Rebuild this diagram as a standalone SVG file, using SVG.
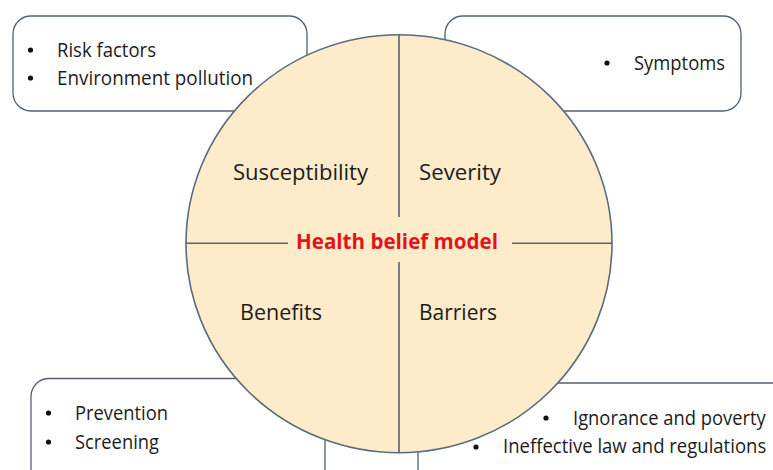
<svg xmlns="http://www.w3.org/2000/svg" width="773" height="470" viewBox="0 0 773 470">
  <style>
    .box { fill: #ffffff; stroke: #4f6078; stroke-width: 1.3; }
    .edge { fill: none; stroke: #4f6078; stroke-width: 1.3; }
    .txt { font-family: "Open Sans", "Noto Sans", sans-serif; font-size: 19.5px; fill: #1c1c1c; }
    .dot { fill: #111111; }
    .quad { font-family: "Open Sans", "Noto Sans", sans-serif; font-size: 21px; fill: #1c1c1c; }
    .title { font-family: "Open Sans", "Noto Sans", sans-serif; font-size: 21px; font-weight: bold; fill: #e2141a; }
    .divider { stroke: #55647a; stroke-width: 1.6; fill: none; }
  </style>
  <rect width="773" height="470" fill="#ffffff"/>

  <!-- Susceptibility box (top left) -->
  <g id="box-susceptibility">
    <rect class="box" x="13" y="16" width="294" height="95" rx="18"/>
    <circle class="dot" cx="30.5" cy="50" r="2.6"/>
    <circle class="dot" cx="30.5" cy="78" r="2.6"/>
    <text class="txt" x="57" y="57" textLength="99" lengthAdjust="spacingAndGlyphs">Risk factors</text>
    <text class="txt" x="57" y="85" textLength="196" lengthAdjust="spacingAndGlyphs">Environment pollution</text>
  </g>

  <!-- Severity box (top right) -->
  <g id="box-severity">
    <rect class="box" x="445" y="16" width="296" height="95" rx="18"/>
    <circle class="dot" cx="607" cy="63" r="2.6"/>
    <text class="txt" x="634" y="70" textLength="91" lengthAdjust="spacingAndGlyphs">Symptoms</text>
  </g>

  <!-- Benefits box (bottom left) -->
  <g id="box-benefits">
    <rect class="box" x="31" y="378.5" width="294" height="110" rx="18"/>
    <circle class="dot" cx="48.5" cy="413" r="2.6"/>
    <circle class="dot" cx="48.5" cy="442" r="2.6"/>
    <text class="txt" x="75" y="420" textLength="93" lengthAdjust="spacingAndGlyphs">Prevention</text>
    <text class="txt" x="75" y="449" textLength="84" lengthAdjust="spacingAndGlyphs">Screening</text>
  </g>

  <!-- Barriers box (bottom right): runs past the right and bottom edges -->
  <g id="box-barriers">
    <rect x="418" y="383" width="355" height="87" fill="#ffffff"/>
    <path class="edge" d="M418,470 V401 A18,18 0 0 1 436,383 H773"/>
    <circle class="dot" cx="546" cy="418" r="2.6"/>
    <circle class="dot" cx="476" cy="447" r="2.6"/>
    <!-- horizontally condensed lines so they fit before the right edge -->
    <text class="txt" transform="translate(573,425) scale(0.88,1)" x="0" y="0" textLength="219" lengthAdjust="spacingAndGlyphs">Ignorance  and poverty</text>
    <text class="txt" transform="translate(503,453) scale(0.82,1)" x="0" y="0" textLength="321" lengthAdjust="spacingAndGlyphs">Ineffective  law and regulations</text>
  </g>

  <!-- Central model circle with its four quadrants -->
  <g id="model">
    <ellipse cx="399" cy="243.7" rx="213" ry="209" fill="#fdebc9" stroke="#5a6a80" stroke-width="1.6"/>
    <line class="divider" x1="399" y1="34.7" x2="399" y2="217"/>
    <line class="divider" x1="399" y1="262" x2="399" y2="452.7"/>
    <line class="divider" x1="186" y1="243.3" x2="288" y2="243.3"/>
    <line class="divider" x1="512" y1="243.3" x2="612" y2="243.3"/>
    <text class="quad" x="233" y="180" textLength="135" lengthAdjust="spacingAndGlyphs">Susceptibility</text>
    <text class="quad" x="419" y="180" textLength="82" lengthAdjust="spacingAndGlyphs">Severity</text>
    <text class="quad" x="240" y="320" textLength="82" lengthAdjust="spacingAndGlyphs">Benefits</text>
    <text class="quad" x="419" y="320" textLength="78" lengthAdjust="spacingAndGlyphs">Barriers</text>
    <text class="title" x="296" y="249" textLength="202" lengthAdjust="spacingAndGlyphs">Health belief model</text>
  </g>

  <g id="connectors"/>
</svg>
